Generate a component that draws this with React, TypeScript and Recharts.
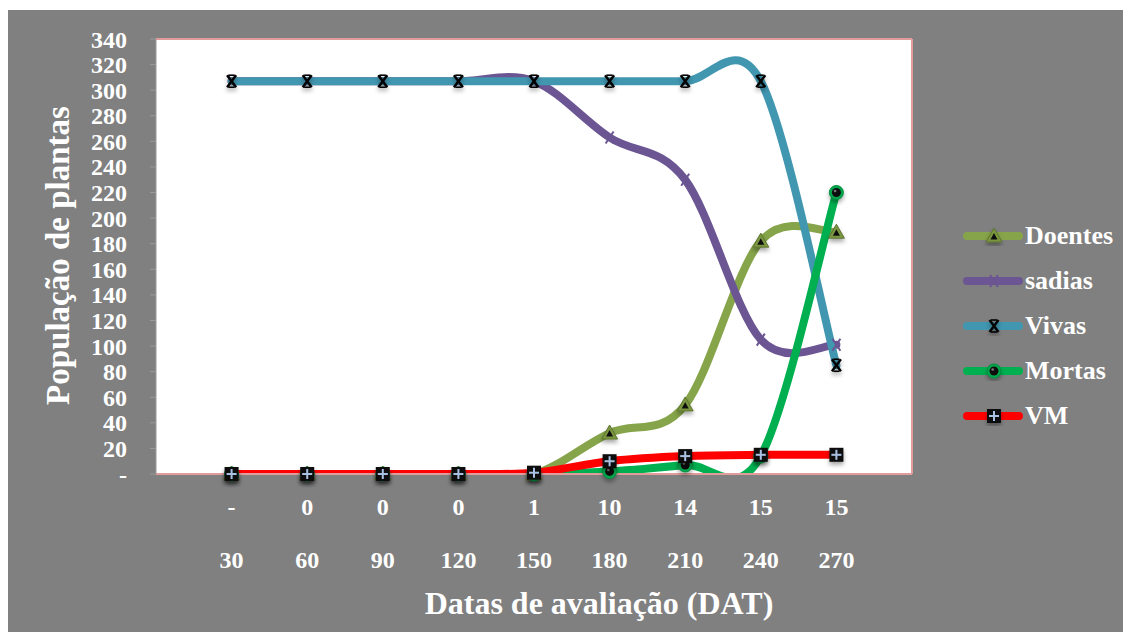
import { LineChart, Line, XAxis, YAxis, CartesianGrid, ReferenceLine, Legend } from 'recharts';

const days = [30, 60, 90, 120, 150, 180, 210, 240, 270];
const vmLabels = ['-', '0', '0', '0', '1', '10', '14', '15', '15'];
const doentes = [0, 0, 0, 0, 0, 32, 54, 182, 189];
const sadias = [307, 307, 307, 307, 307, 263, 230, 105, 101];
const vivas = [307, 307, 307, 307, 307, 307, 307, 307, 85];
const mortas = [0, 0, 0, 0, 0, 2, 7, 14, 220];
const vm = [0, 0, 0, 0, 1, 10, 14, 15, 15];
const yTicks = [0, 20, 40, 60, 80, 100, 120, 140, 160, 180, 200, 220, 240, 260, 280, 300, 320, 340];

const FONT = "'Liberation Serif', 'Times New Roman', Times, 'DejaVu Serif', serif";
const PINK = '#E39C9C';

const series = [
  { key: 'doentes', name: 'Doentes', color: '#86A44A' },
  { key: 'sadias', name: 'sadias', color: '#6B5592' },
  { key: 'vivas', name: 'Vivas', color: '#4196B0' },
  { key: 'mortas', name: 'Mortas', color: '#00B050' },
  { key: 'vm', name: 'VM', color: '#FF0000' },
];

const chartData = days.map((d, i) => ({
  day: d,
  doentes: doentes[i],
  sadias: sadias[i],
  vivas: vivas[i],
  mortas: mortas[i],
  vm: vm[i],
}));

// Excel-like smoothed line (Catmull-Rom through the points)
const smoothCurve = (ctx: any) => {
  let pts: [number, number][] = [];
  return {
    areaStart() {},
    areaEnd() {},
    lineStart() { pts = []; },
    point(x: number, y: number) { pts.push([x, y]); },
    lineEnd() {
      if (!pts.length) return;
      ctx.moveTo(pts[0][0], pts[0][1]);
      for (let i = 0; i < pts.length - 1; i++) {
        const p0 = pts[i - 1] ?? pts[i];
        const p1 = pts[i];
        const p2 = pts[i + 1];
        const p3 = pts[i + 2] ?? p2;
        ctx.bezierCurveTo(
          p1[0] + (p2[0] - p0[0]) / 6, p1[1] + (p2[1] - p0[1]) / 6,
          p2[0] - (p3[0] - p1[0]) / 6, p2[1] - (p3[1] - p1[1]) / 6,
          p2[0], p2[1],
        );
      }
    },
  };
};

function Marker({ kind, cx, cy }: { kind: string; cx: number; cy: number }) {
  if (cx == null || cy == null) return null;
  switch (kind) {
    case 'doentes':
      return (
        <g filter="url(#mk-shadow)">
          <polygon points={`${cx},${cy - 8} ${cx + 8},${cy + 6} ${cx - 8},${cy + 6}`} fill="#7A9640" stroke="#5C7530" strokeWidth={1} />
          <polygon points={`${cx},${cy - 3} ${cx + 3.5},${cy + 3.5} ${cx - 3.5},${cy + 3.5}`} fill="#111" />
        </g>
      );
    case 'sadias':
      return (
        <g stroke="#6B5592" strokeWidth={2}>
          <line x1={cx - 4} y1={cy - 6} x2={cx + 4} y2={cy + 6} />
          <line x1={cx + 4} y1={cy - 6} x2={cx - 4} y2={cy + 6} />
        </g>
      );
    case 'vivas':
      return (
        <g stroke="#000" strokeWidth={2.4} filter="url(#mk-shadow)">
          <line x1={cx - 4.5} y1={cy - 6} x2={cx + 4.5} y2={cy + 6} />
          <line x1={cx + 4.5} y1={cy - 6} x2={cx - 4.5} y2={cy + 6} />
          <line x1={cx - 3} y1={cy - 6} x2={cx + 3} y2={cy - 6} strokeWidth={1.6} />
          <line x1={cx - 3} y1={cy + 6} x2={cx + 3} y2={cy + 6} strokeWidth={1.6} />
        </g>
      );
    case 'mortas':
      return (
        <g filter="url(#mk-shadow)">
          <circle cx={cx} cy={cy} r={7} fill="#00A84C" stroke="#008A3E" strokeWidth={1} />
          <circle cx={cx} cy={cy} r={4.5} fill="#111" />
          <circle cx={cx - 1.3} cy={cy - 1.5} r={1.3} fill="#777" />
        </g>
      );
    default:
      return (
        <g filter="url(#mk-shadow)">
          <rect x={cx - 7} y={cy - 7} width={14} height={14} fill="#111" />
          <line x1={cx - 5} y1={cy} x2={cx + 5} y2={cy} stroke="#A9C1E2" strokeWidth={2} />
          <line x1={cx} y1={cy - 5} x2={cx} y2={cy + 5} stroke="#A9C1E2" strokeWidth={2} />
        </g>
      );
  }
}

function DayTick({ x, y, payload }: any) {
  const i = days.indexOf(payload.value);
  const style = { fill: '#fff', fontSize: 24, fontWeight: 700, fontFamily: FONT };
  return (
    <g>
      <text x={x} y={y + 33} textAnchor="middle" dominantBaseline="central" style={style}>{vmLabels[i]}</text>
      <text x={x} y={y + 86} textAnchor="middle" dominantBaseline="central" style={style}>{payload.value}</text>
    </g>
  );
}

function LegendContent() {
  return (
    <div style={{ fontFamily: FONT }}>
      {series.map((s) => (
        <div key={s.key} style={{ display: 'flex', alignItems: 'center', height: 45 }}>
          <svg width={62} height={20}>
            <line x1={4} y1={10} x2={56} y2={10} stroke={s.color} strokeWidth={8} strokeLinecap="round" />
            <Marker kind={s.key} cx={31} cy={10} />
          </svg>
          <span style={{ color: '#fff', fontSize: 26, fontWeight: 700, lineHeight: 1 }}>{s.name}</span>
        </div>
      ))}
    </div>
  );
}

export default function App() {
  return (
    <div style={{ width: 1123, height: 622, marginTop: 2, background: '#808080', fontFamily: FONT }}>
      <LineChart width={1123} height={622} data={chartData} margin={{ top: 29, right: 219, left: 0, bottom: 0 }}>
        <defs>
          <filter id="mk-shadow" x="-60%" y="-60%" width="220%" height="220%">
            <feDropShadow dx={0} dy={3} stdDeviation={2} floodColor="#000" floodOpacity={0.35} />
          </filter>
        </defs>

        <CartesianGrid horizontal={false} vertical={false} fill="#fff" />

        <XAxis
          dataKey="day"
          type="number"
          domain={[0, 300]}
          ticks={days}
          tick={<DayTick />}
          tickSize={0}
          tickMargin={0}
          tickLine={false}
          axisLine={{ stroke: PINK, strokeWidth: 2 }}
          height={158}
          label={{ value: 'Datas de avaliação (DAT)', position: 'center', dx: 65, dy: 50, fill: '#fff', fontSize: 32, fontWeight: 700, fontFamily: FONT }}
        />

        <YAxis
          domain={[0, 340]}
          ticks={yTicks}
          interval={0}
          width={148}
          tick={{ fill: '#fff', fontSize: 24, fontWeight: 700, fontFamily: FONT }}
          tickFormatter={(v) => (v === 0 ? '-' : String(v))}
          tickSize={6}
          tickMargin={23}
          tickLine={{ stroke: '#9A9A9A' }}
          axisLine={{ stroke: '#9A9A9A' }}
          label={{ value: 'População de plantas', angle: -90, position: 'center', dx: -25, dy: -1, fill: '#fff', fontSize: 33, fontWeight: 700, fontFamily: FONT }}
        />
        {/* hidden axis: curves on it are clipped at the plot edge, like Excel */}
        <YAxis yAxisId="clip" domain={[0, 340]} allowDataOverflow hide />

        <ReferenceLine y={340} stroke={PINK} strokeWidth={2} />
        <ReferenceLine x={300} stroke={PINK} strokeWidth={2} />

        <Legend
          layout="vertical"
          align="center"
          verticalAlign="middle"
          wrapperStyle={{ left: 955, top: 203, width: 170, height: 230 }}
          content={() => <LegendContent />}
        />

        {series.flatMap((s) => [
          <Line
            key={`${s.key}-curve`}
            yAxisId="clip"
            dataKey={s.key}
            name={s.name}
            type={smoothCurve as any}
            stroke={s.color}
            strokeWidth={8}
            strokeLinecap="round"
            dot={false}
            activeDot={false}
            isAnimationActive={false}
          />,
          <Line
            key={`${s.key}-dots`}
            dataKey={s.key}
            name={s.name}
            stroke="none"
            legendType="none"
            dot={(p: any) => <Marker key={`${s.key}-${p.index}`} kind={s.key} cx={p.cx} cy={p.cy} />}
            activeDot={false}
            isAnimationActive={false}
          />,
        ])}
      </LineChart>
    </div>
  );
}
